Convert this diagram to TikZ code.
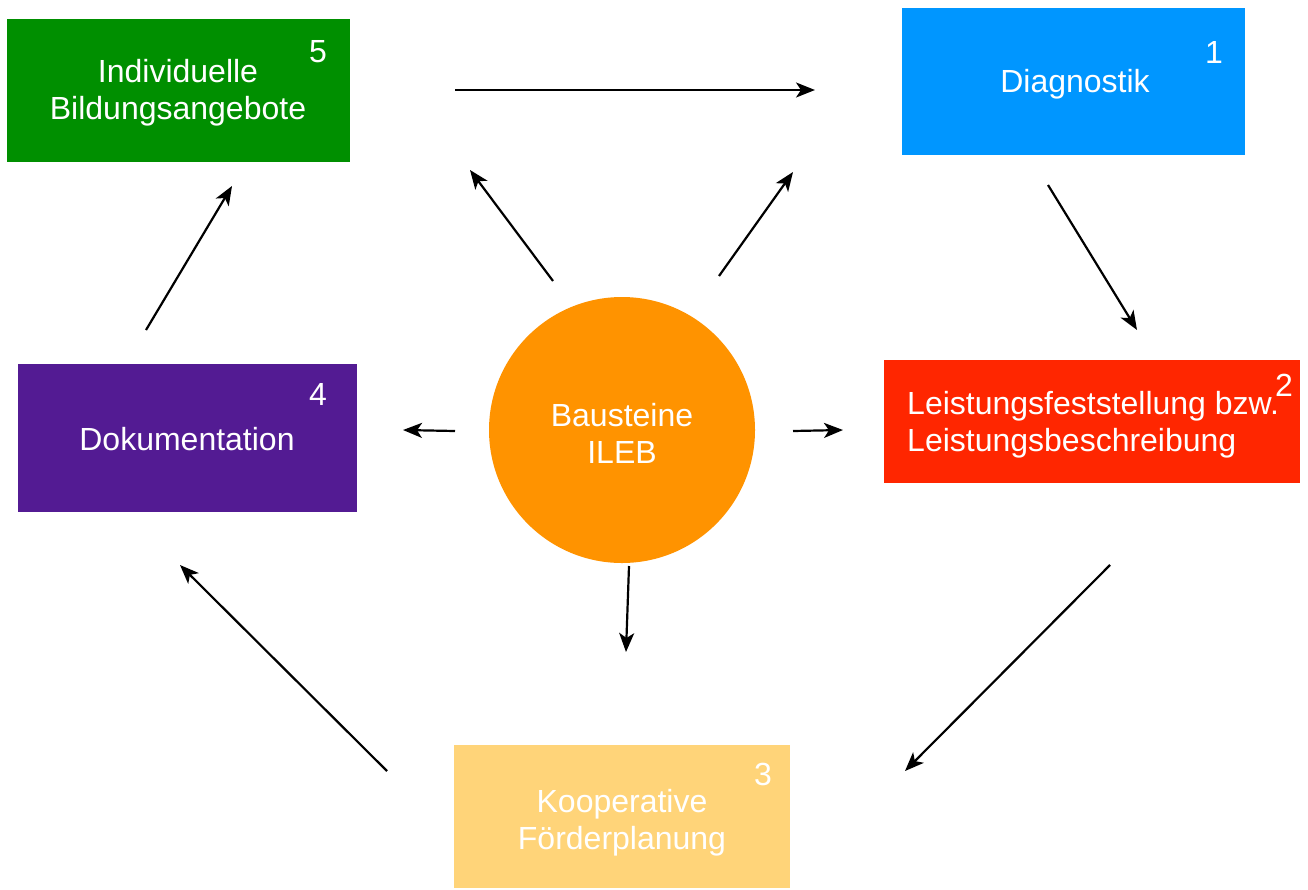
\documentclass[tikz,border=0pt]{standalone}
\usepackage{fontspec}
\setmainfont{Liberation Sans}
\usetikzlibrary{arrows.meta}
\definecolor{clover}{HTML}{008F00}
\definecolor{aqua}{HTML}{0096FF}
\definecolor{maraschino}{HTML}{FF2600}
\definecolor{grape}{HTML}{531B93}
\definecolor{cantaloupe}{HTML}{FFD479}
\definecolor{tangerine}{HTML}{FF9300}
\begin{document}
\begin{tikzpicture}[x=1pt,y=-1pt,
  box/.style={draw=none,rectangle,inner sep=0pt,text=white,align=center,font=\fontsize{32}{37}\selectfont},
  lbl/.style={text=white,inner sep=0pt,align=center,font=\fontsize{32}{37}\selectfont},
  num/.style={text=white,inner sep=0pt,font=\fontsize{32}{37}\selectfont},
  arr/.style={line width=2.2pt,-{Stealth[length=19pt,width=15pt,inset=5pt]}}]
\useasboundingbox (0,0) rectangle (1308,889);
\fill[white] (0,0) rectangle (1308,889);
% boxes
\node[box,fill=clover,minimum width=343pt,minimum height=143pt] (b5) at (178.5,90.5) {};
\node[lbl] (t5) at (178,93) {Individuelle\\Bildungsangebote};
\node[num] (n5) at (318,52) {5};
\node[box,fill=aqua,minimum width=343pt,minimum height=147pt] (b1) at (1073.5,81.5) {};
\node[lbl] (t1) at (1075,84) {Diagnostik};
\node[num] (n1) at (1214,52) {1};
\node[box,fill=maraschino,minimum width=416pt,minimum height=123pt] (b2) at (1092,421.5) {};
\node[lbl,anchor=west,align=left] (t2) at (907,425) {Leistungsfeststellung bzw.\\Leistungsbeschreibung};
\node[num] (n2) at (1284,385) {2};
\node[box,fill=grape,minimum width=339pt,minimum height=148pt] (b4) at (187.5,438) {};
\node[lbl] (t4) at (187,439) {Dokumentation};
\node[num] (n4) at (318,394) {4};
\node[box,fill=cantaloupe,minimum width=336pt,minimum height=143pt] (b3) at (622,816.5) {};
\node[lbl] (t3) at (622,823) {Kooperative\\Förderplanung};
\node[num] (n3) at (763,774) {3};
\node[circle,fill=tangerine,minimum size=266pt,inner sep=0pt] (c) at (622,430) {};
\node[lbl] (tc) at (622,433) {Bausteine\\ILEB};
% arrow endpoints
\coordinate (a1s) at (455,90);   \coordinate (a1e) at (815,90);
\coordinate (a2s) at (1048,185); \coordinate (a2e) at (1137,330);
\coordinate (a3s) at (1110,565); \coordinate (a3e) at (905,771);
\coordinate (a4s) at (387,771);  \coordinate (a4e) at (180,565);
\coordinate (a5s) at (146,330);  \coordinate (a5e) at (232,186);
\coordinate (c1s) at (553,281);  \coordinate (c1e) at (470,170);
\coordinate (c2s) at (719,276);  \coordinate (c2e) at (793,172);
\coordinate (c3s) at (455,431);  \coordinate (c3e) at (403,430);
\coordinate (c4s) at (793,431);  \coordinate (c4e) at (843,430);
\coordinate (c5s) at (629,566);  \coordinate (c5e) at (626,652);
\draw[arr] (a1s) -- (a1e);
\draw[arr] (a2s) -- (a2e);
\draw[arr] (a3s) -- (a3e);
\draw[arr] (a4s) -- (a4e);
\draw[arr] (a5s) -- (a5e);
\draw[arr] (c1s) -- (c1e);
\draw[arr] (c2s) -- (c2e);
\draw[arr] (c3s) -- (c3e);
\draw[arr] (c4s) -- (c4e);
\draw[arr] (c5s) -- (c5e);
\end{tikzpicture}
\end{document}
